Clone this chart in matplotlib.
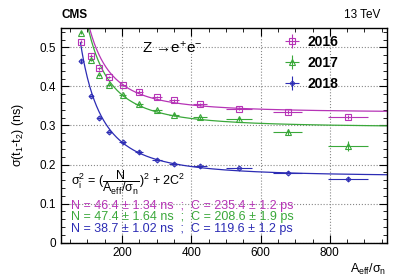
import numpy as np
import matplotlib.pyplot as plt
from matplotlib.ticker import MultipleLocator

plt.rcParams['font.family'] = ['Liberation Sans', 'DejaVu Sans']
plt.rcParams['mathtext.fontset'] = 'custom'
plt.rcParams['mathtext.rm'] = 'Liberation Sans'
plt.rcParams['mathtext.it'] = 'Liberation Sans'
plt.rcParams['mathtext.default'] = 'regular'

# A_eff/sigma_n bin centres and half widths
x = [81, 110, 134, 161, 202, 250, 301, 350, 424, 538, 678, 853]
xerr = [3, 5, 6, 7, 10, 12, 14, 14, 20, 37, 43, 58]

res_2016 = [0.514, 0.478, 0.446, 0.425, 0.403, 0.387, 0.373, 0.364, 0.354, 0.343, 0.334, 0.322]
res_2017 = [0.538, 0.468, 0.429, 0.404, 0.378, 0.354, 0.339, 0.328, 0.321, 0.316, 0.283, 0.247]
res_2018 = [0.465, 0.376, 0.320, 0.283, 0.258, 0.233, 0.211, 0.201, 0.197, 0.191, 0.179, 0.162]
yerr_2016 = [0.004, 0.004, 0.003, 0.003, 0.003, 0.003, 0.003, 0.003, 0.003, 0.004, 0.005, 0.006]
yerr_2017 = [0.004, 0.004, 0.003, 0.003, 0.003, 0.003, 0.003, 0.003, 0.004, 0.005, 0.008, 0.012]
yerr_2018 = [0.004, 0.003, 0.003, 0.003, 0.003, 0.003, 0.003, 0.003, 0.003, 0.003, 0.004, 0.005]

# fit results: N in ns, C in ns
fit_N = [46.4, 47.4, 38.7]
fit_C = [0.2354, 0.2086, 0.1196]
fit_labels = ['N = 46.4 ± 1.34 ns  ;  C = 235.4 ± 1.2 ps',
              'N = 47.4 ± 1.64 ns  ;  C = 208.6 ± 1.9 ps',
              'N = 38.7 ± 1.02 ns  ;  C = 119.6 ± 1.2 ps']

years = ['2016', '2017', '2018']
colors = ['#b634b6', '#3aa83a', '#2c2cb4']
markers = ['s', '^', 'D']
msizes = [4.0, 4.0, 2.5]

fig = plt.figure(figsize=(4.07, 2.76), dpi=100)
ax = fig.add_axes([0.150, 0.121, 0.800, 0.778])

xf = np.linspace(80, 964, 400)
handles = []
for yr, ys, ye, c, m, ms, N, C in zip(years, [res_2016, res_2017, res_2018],
                                      [yerr_2016, yerr_2017, yerr_2018],
                                      colors, markers, msizes, fit_N, fit_C):
    ax.plot(xf, np.sqrt((N / xf) ** 2 + 2 * C ** 2), color=c, lw=0.9, zorder=2)
    h = ax.errorbar(x, ys, xerr=xerr, yerr=ye, fmt=m, ms=ms, mfc='none', mec=c,
                    mew=0.8, color=c, elinewidth=0.8, capsize=0, zorder=3, label=yr)
    handles.append(h)

ax.set_xlim(24, 964)
ax.set_ylim(0, 0.55)
ax.xaxis.set_major_locator(MultipleLocator(200))
ax.xaxis.set_minor_locator(MultipleLocator(50))
ax.yaxis.set_major_locator(MultipleLocator(0.1))
ax.yaxis.set_minor_locator(MultipleLocator(0.02))
ax.tick_params(which='both', direction='in', top=True, right=True, labelsize=8.5)
ax.tick_params(which='major', length=6, width=0.8)
ax.tick_params(which='minor', length=3, width=0.6)
ax.yaxis.set_major_formatter(plt.FuncFormatter(lambda v, p: '0' if v == 0 else '%.1f' % v))
ax.grid(True, which='major', ls=':', color='#888888', lw=0.8, zorder=0)
for s in ax.spines.values():
    s.set_linewidth(1.0)

ax.set_xlabel('$A_{eff}/\\sigma_{n}$', fontsize=9, loc='right', labelpad=2)
ax.set_ylabel('$\\sigma(t_{1}$-$t_{2})$ (ns)', fontsize=9, labelpad=10)

leg = ax.legend(handles=handles, loc='upper right', bbox_to_anchor=(0.89, 1.025),
                frameon=False, handlelength=1.6, handletextpad=0.3,
                labelspacing=0.5, prop={'weight': 'bold', 'size': 10})

ax.text(0.248, 0.885, 'Z →e$^{+}$e$^{-}$', transform=ax.transAxes, fontsize=11)
ax.text(0.03, 0.278,
        '$\\sigma_{i}^{2}$ = ($\\dfrac{N}{A_{eff}/\\sigma_{n}}$)$^{2}$ + 2C$^{2}$',
        transform=ax.transAxes, fontsize=9, va='center')
for i, (lab, c) in enumerate(zip(fit_labels, colors)):
    ax.text(0.03, 0.171 - i * 0.053, lab, transform=ax.transAxes, fontsize=9,
            color=c, va='center')

fig.text(0.150, 0.925, 'CMS', fontsize=8.5, weight='bold', va='bottom')
fig.text(0.935, 0.925, '13 TeV', fontsize=8.5, ha='right', va='bottom')

fig.savefig('out.png', dpi=100)
